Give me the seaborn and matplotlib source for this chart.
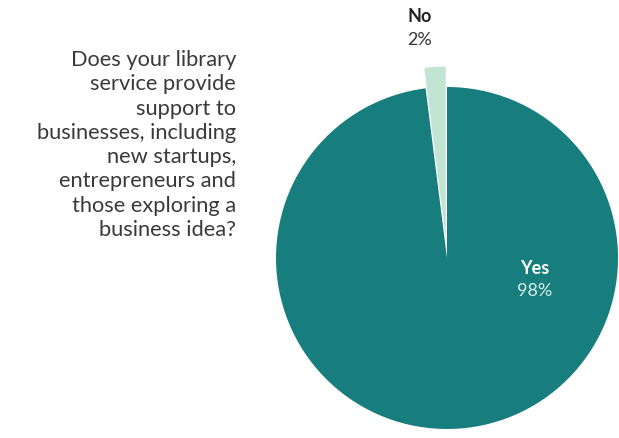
import matplotlib
matplotlib.use("Agg")
import matplotlib.pyplot as plt
import seaborn as sns

categories = ["Yes", "No"]
values = [98, 2]
pct_labels = ["98%", "2%"]
question = ("Does your library\nservice provide\nsupport to\nbusinesses, including\n"
            "new startups,\nentrepreneurs and\nthose exploring a\nbusiness idea?")

sns.set_theme(style="white")
plt.rcParams['font.family'] = ['Lato', 'DejaVu Sans']

colors = ["#177e7d", "#c1e4d3"]

W, H = 619, 438
fig = plt.figure(figsize=(W / 100, H / 100), dpi=100)
cx, cy, r = 447, 180, 171
ax = fig.add_axes([(cx - r) / W, (cy - r) / H, 2 * r / W, 2 * r / H])

# Yes starts at top going clockwise; No is the small slice left of top
ax.pie([values[1], values[0]], colors=[colors[1], colors[0]], startangle=90,
       counterclock=True, explode=[0.12, 0], radius=1,
       wedgeprops=dict(linewidth=0))
ax.set_xlim(-1, 1)
ax.set_ylim(-1, 1)
ax.set_aspect("equal")
ax.axis("off")

ax.text(0.515, -0.06, categories[0], ha="center", va="center", color="white",
        fontsize=13, fontweight="bold")
ax.text(0.515, -0.195, pct_labels[0], ha="center", va="center", color="#d8eeea",
        fontsize=13)
ax.text(-0.16, 1.41, categories[1], ha="center", va="center", color="#222222",
        fontsize=13, fontweight="bold")
ax.text(-0.16, 1.275, pct_labels[1], ha="center", va="center", color="#333333",
        fontsize=13)

fig.text(236 / W, 1 - 145 / H, question, ha="right", va="center",
         multialignment="right", fontsize=15.75, color="#3a3a3a", linespacing=1.27)

fig.savefig("out.png", dpi=100)
